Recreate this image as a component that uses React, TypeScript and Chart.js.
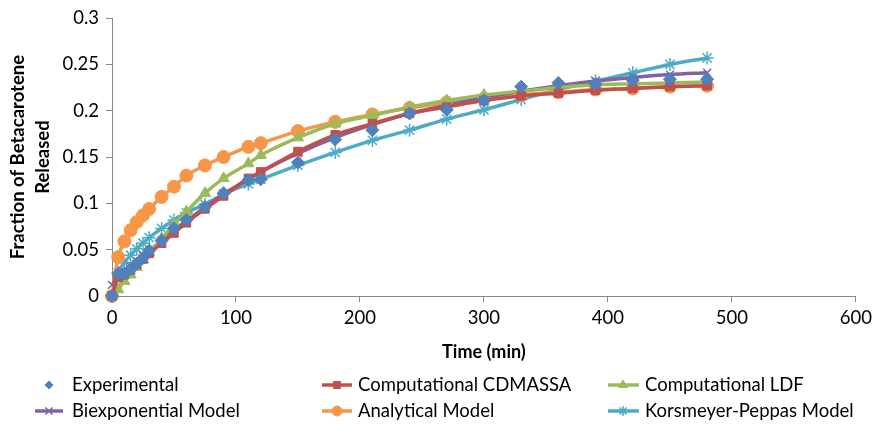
import React, { useEffect, useRef } from 'react';
import { Chart, registerables } from 'chart.js';
import { drawPoint } from 'chart.js/helpers';

Chart.register(...registerables);

const timeMin = [0, 5, 10, 15, 20, 25, 30, 40, 50, 60, 75, 90, 110, 120, 150, 180, 210, 240, 270, 300, 330, 360, 390, 420, 450, 480];

const experimental = [0, 0.024, 0.024, 0.029, 0.035, 0.041, 0.049, 0.060, 0.073, 0.082, 0.096, 0.111, 0.125, 0.126, 0.144, 0.169, 0.179, 0.197, 0.201, 0.211, 0.226, 0.230, 0.229, 0.233, 0.234, 0.234];
const cdmassa = [0, 0.020, 0.023, 0.028, 0.034, 0.040, 0.046, 0.057, 0.068, 0.079, 0.094, 0.108, 0.127, 0.134, 0.156, 0.174, 0.186, 0.197, 0.204, 0.211, 0.216, 0.219, 0.222, 0.224, 0.226, 0.227];
const ldf = [0, 0.007, 0.016, 0.023, 0.031, 0.039, 0.047, 0.062, 0.077, 0.091, 0.111, 0.127, 0.143, 0.152, 0.171, 0.186, 0.195, 0.204, 0.211, 0.217, 0.221, 0.225, 0.228, 0.229, 0.230, 0.231];
const biexponential = [0.012, 0.020, 0.026, 0.032, 0.038, 0.044, 0.049, 0.060, 0.071, 0.081, 0.096, 0.110, 0.126, 0.134, 0.154, 0.171, 0.185, 0.197, 0.206, 0.214, 0.221, 0.227, 0.232, 0.236, 0.239, 0.241];
const analytical = [0, 0.042, 0.059, 0.071, 0.080, 0.087, 0.094, 0.107, 0.118, 0.130, 0.141, 0.150, 0.161, 0.165, 0.178, 0.188, 0.196, 0.203, 0.209, 0.213, 0.217, 0.220, 0.223, 0.224, 0.226, 0.227];
const korsmeyerPeppas = [0, 0.025, 0.036, 0.044, 0.051, 0.057, 0.063, 0.073, 0.082, 0.090, 0.099, 0.110, 0.121, 0.126, 0.141, 0.155, 0.168, 0.179, 0.191, 0.201, 0.212, 0.223, 0.232, 0.241, 0.250, 0.257];

const seriesNames = ['Experimental', 'Computational CDMASSA', 'Computational LDF', 'Biexponential Model', 'Analytical Model', 'Korsmeyer-Peppas Model'];
const seriesValues = [experimental, cdmassa, ldf, biexponential, analytical, korsmeyerPeppas];
const seriesColors = ['#4F81BD', '#C0504D', '#9BBB59', '#8064A2', '#F79646', '#4BACC6'];
const seriesPointStyles = ['rectRot', 'rect', 'triangle', 'crossRot', 'circle', 'star'];
const seriesShowLine = [false, true, true, true, true, true];

const xTicks = [0, 100, 200, 300, 400, 500, 600];
const yTicks = [0, 0.05, 0.1, 0.15, 0.2, 0.25, 0.3];

const FONT = 'Lato, "Open Sans", sans-serif';
const AXIS_COLOR = '#868686';

const pointRadius = [6.5, 6, 6.5, 5.5, 6.5, 6.5];

// legend layout: [markerX, lineFrom, lineTo, textX, y]
const legendLayout = [
  [49, 0, 0, 72, 385],
  [337, 322, 352, 358, 385],
  [623, 608, 639, 645, 385],
  [49, 35, 63, 72, 411],
  [337, 322, 352, 358, 411],
  [623, 608, 639, 645, 411],
];

const legendPlugin = {
  id: 'customLegend',
  afterDraw(chart: any) {
    const ctx = chart.ctx;
    ctx.save();
    seriesNames.forEach((name, i) => {
      const [mx, lf, lt, tx, y] = legendLayout[i];
      const color = seriesColors[i];
      if (seriesShowLine[i]) {
        ctx.strokeStyle = color;
        ctx.lineWidth = 3.5;
        ctx.beginPath();
        ctx.moveTo(lf, y);
        ctx.lineTo(lt, y);
        ctx.stroke();
      }
      ctx.fillStyle = color;
      ctx.strokeStyle = color;
      ctx.lineWidth = seriesPointStyles[i] === 'crossRot' || seriesPointStyles[i] === 'star' ? 1.5 : 1;
      drawPoint(ctx, { pointStyle: seriesPointStyles[i], radius: i === 0 ? 4 : 5, rotation: 0, borderWidth: ctx.lineWidth }, mx, y);
      ctx.fillStyle = '#000';
      ctx.font = `18.5px ${FONT}`;
      ctx.textBaseline = 'middle';
      ctx.textAlign = 'left';
      ctx.fillText(name, tx, y);
    });
    ctx.restore();
  },
};

export default function App() {
  const ref = useRef<HTMLCanvasElement | null>(null);
  useEffect(() => {
    if (!ref.current) return;
    const datasets = seriesNames.map((name, i) => ({
      label: name,
      data: timeMin.map((t, j) => ({ x: t, y: seriesValues[i][j] })),
      borderColor: seriesColors[i],
      backgroundColor: seriesColors[i],
      pointBackgroundColor: seriesColors[i],
      pointBorderColor: seriesColors[i],
      pointStyle: seriesPointStyles[i],
      pointRadius: pointRadius[i],
      pointBorderWidth: seriesPointStyles[i] === 'crossRot' || seriesPointStyles[i] === 'star' ? 1.5 : 1,
      borderWidth: 3.5,
      showLine: seriesShowLine[i],
      cubicInterpolationMode: 'monotone' as const,
      fill: false,
      clip: false as any,
    }));
    const chart = new Chart(ref.current, {
      type: 'line',
      data: { datasets },
      options: {
        responsive: false,
        animation: false,
        layout: { padding: { left: 0, right: 20, top: 17, bottom: 67 } },
        plugins: { legend: { display: false }, tooltip: { enabled: false } },
        scales: {
          x: {
            type: 'linear',
            min: 0,
            max: 600,
            afterBuildTicks: (s: any) => { s.ticks = xTicks.map((v) => ({ value: v })); },
            afterFit: (s: any) => { s.height = 70; },
            ticks: { color: '#000', font: { family: FONT, size: 18.5 }, padding: 5 },
            grid: { drawOnChartArea: false, drawTicks: true, tickLength: 6, color: AXIS_COLOR },
            border: { color: AXIS_COLOR, width: 1 },
            title: { display: true, text: 'Time (min)', color: '#000', font: { family: FONT, size: 18, weight: 'bold' }, padding: { top: 4, bottom: 3 } },
          },
          y: {
            type: 'linear',
            min: 0,
            max: 0.3,
            afterBuildTicks: (s: any) => { s.ticks = yTicks.map((v) => ({ value: v })); },
            afterFit: (s: any) => { s.width = 112; },
            ticks: {
              color: '#000',
              font: { family: FONT, size: 18.5 },
              padding: 7,
              callback: (v: any) => String(Number(Number(v).toFixed(2))),
            },
            grid: { drawOnChartArea: false, drawTicks: true, tickLength: 6, color: AXIS_COLOR },
            border: { color: AXIS_COLOR, width: 1 },
            title: {
              display: true,
              text: ['Fraction of Betacarotene', 'Released'],
              color: '#000',
              font: { family: FONT, size: 18.5, weight: 'bold', lineHeight: 1.35 },
              padding: { top: 6, bottom: 4 },
            },
          },
        },
      },
      plugins: [legendPlugin],
    });
    return () => chart.destroy();
  }, []);
  return (
    <div style={{ position: 'absolute', left: 0, top: 0, width: 877, height: 433, background: '#fff' }}>
      <canvas ref={ref} width={877} height={433} style={{ display: 'block', width: 877, height: 433 }} />
    </div>
  );
}
